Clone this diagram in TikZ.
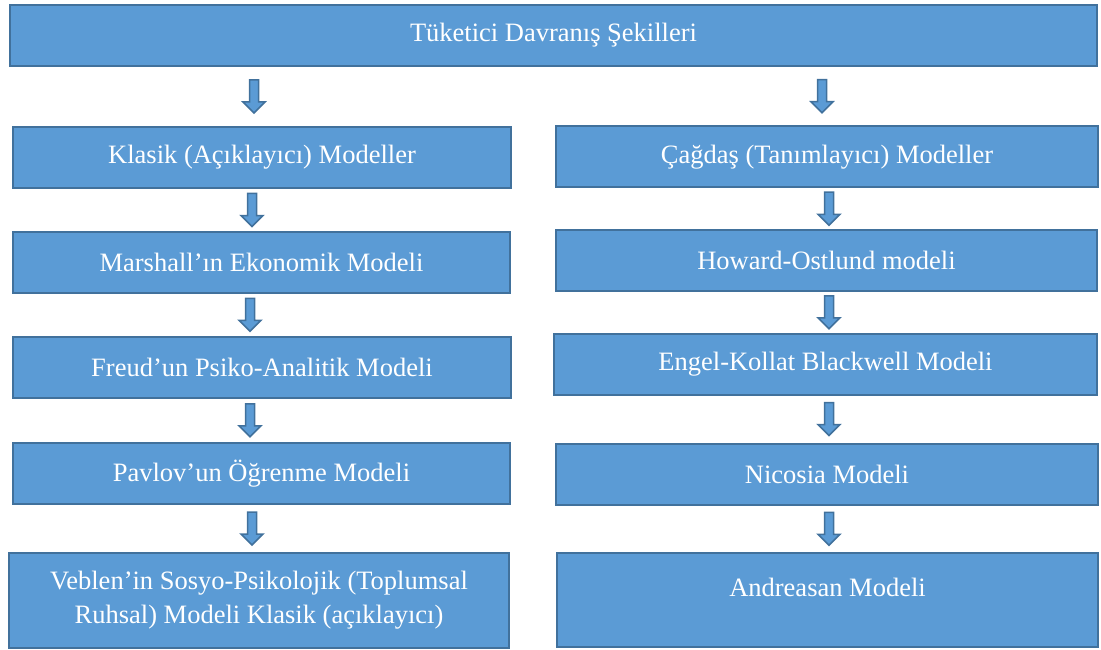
\documentclass[tikz,border=0pt]{standalone}
\usepackage{fontspec}
\setmainfont{Liberation Serif}
\definecolor{boxfill}{RGB}{91,155,213}
\definecolor{boxline}{RGB}{65,113,156}

\begin{document}
\begin{tikzpicture}[x=1pt,y=-1pt,
  box/.style={draw=boxline, fill=boxfill, line width=2pt, text=white, font=\fontsize{26.5}{34}\selectfont, align=center, inner sep=0pt, minimum height=61pt},
  downarrow/.style={draw=boxline, fill=boxfill, line width=1.5pt, line join=miter}]
\useasboundingbox (0,0) rectangle (1101,650);

\node[box, minimum width=1087pt] (kinds) at (553.5,35.5) {Tüketici Davranış Şekilleri};

\node[box, minimum width=498pt] (klasik) at (262,157.5) {Klasik (Açıklayıcı) Modeller};
\node[box, minimum width=497pt] (marshall) at (261.5,262.5) {Marshall’ın Ekonomik Modeli};
\node[box, minimum width=498pt] (freud) at (262,367) {Freud’un Psiko-Analitik Modeli};
\node[box, minimum width=497pt] (pavlov) at (261.5,473.5) {Pavlov’un Öğrenme Modeli};
\node[box, minimum width=500pt, minimum height=95pt] (veblen) at (259,600.5) {Veblen’in Sosyo-Psikolojik (Toplumsal\\Ruhsal) Modeli Klasik (açıklayıcı)};

\node[box, minimum width=542pt] (cagdas) at (827,157) {Çağdaş (Tanımlayıcı) Modeller};
\node[box, minimum width=541pt] (howard) at (826.5,260.5) {Howard-Ostlund modeli};
\node[box, minimum width=543pt] (engel) at (825.5,364) {Engel-Kollat Blackwell Modeli};
\node[box, minimum width=542pt] (nicosia) at (827,474) {Nicosia Modeli};
\node[box, minimum width=541pt, minimum height=94pt] (andreasan) at (827.5,600) {Andreasan Modeli\\[-8pt]\mbox{}};

\foreach \u/\l/\x in {kinds/klasik/254, klasik/marshall/252, marshall/freud/250, freud/pavlov/250, pavlov/veblen/252, kinds/cagdas/822, cagdas/howard/829, howard/engel/829, engel/nicosia/829, nicosia/andreasan/829}{
  \path (\x,0 |- \u.south) -- (\x,0 |- \l.north) coordinate[midway] (\u-\l);
  \draw[downarrow] (\u-\l) ++(-4.5,-16.5) -- ++(9,0) -- ++(0,22) -- ++(6.5,0) -- ++(-11,11) -- ++(-11,-11) -- ++(6.5,0) -- cycle;
}
\end{tikzpicture}
\end{document}
